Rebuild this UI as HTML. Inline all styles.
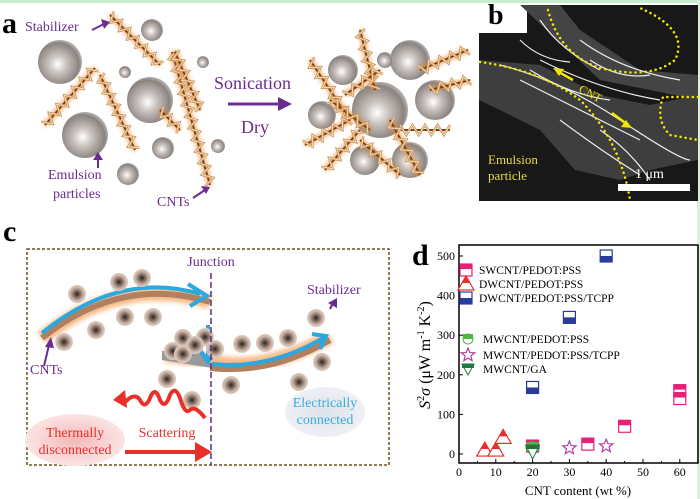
<!DOCTYPE html>
<html><head><meta charset="utf-8">
<style>
html,body{margin:0;padding:0;background:#fff;}
svg{display:block;}
text{font-family:"Liberation Serif",serif;}
</style></head>
<body>
<svg id="s" width="700" height="499" viewBox="0 0 700 499" xmlns="http://www.w3.org/2000/svg">
<defs>
<radialGradient id="sph" cx="0.45" cy="0.55" r="0.6">
<stop offset="0" stop-color="#ffffff"/><stop offset="0.35" stop-color="#c8c0bc"/><stop offset="0.8" stop-color="#8a8480"/><stop offset="1" stop-color="#d0ccc8"/>
</radialGradient>
<radialGradient id="sph2" cx="0.5" cy="0.5" r="0.55">
<stop offset="0" stop-color="#2a2018"/><stop offset="0.25" stop-color="#6a5a50"/><stop offset="0.65" stop-color="#c8b0a4"/><stop offset="1" stop-color="#e8d8d0"/>
</radialGradient>
<radialGradient id="pinkE" cx="0.5" cy="0.5" r="0.5">
<stop offset="0" stop-color="#f4b8b8"/><stop offset="1" stop-color="#fbe4e4"/>
</radialGradient>
<radialGradient id="blueE" cx="0.5" cy="0.5" r="0.5">
<stop offset="0" stop-color="#dde2ea"/><stop offset="1" stop-color="#eef0f4"/>
</radialGradient>
<filter id="blur"><feGaussianBlur stdDeviation="2.5"/></filter>
<filter id="blur2"><feGaussianBlur stdDeviation="4"/></filter>
</defs>
<rect x="0" y="0" width="700" height="3" fill="#c8ecd0"/>
<rect x="697" y="0" width="3" height="499" fill="#d8f0dc"/>

<!-- Panel a -->
<g id="pa"></g>
<text x="2" y="33" font-size="30" font-weight="bold">a</text>
<g fill="#6a2c91" font-size="14">
<text x="25" y="31">Stabilizer</text>
<text x="48" y="179">Emulsion</text>
<text x="53" y="198">particles</text>
<text x="157" y="206">CNTs</text>
<text x="214" y="89" font-size="18">Sonication</text>
<text x="241" y="133" font-size="18">Dry</text>
</g>
<g stroke="#6a2c91" stroke-width="3" fill="#6a2c91">
<line x1="228" y1="104" x2="280" y2="104"/><polygon points="278,97 292,104 278,111" stroke="none"/>
<line x1="92" y1="30" x2="104" y2="24" stroke-width="2"/><polygon points="101,19 110,22 104,29" stroke="none"/>
<line x1="98" y1="168" x2="98" y2="158" stroke-width="2"/><polygon points="93,160 98,152 103,160" stroke="none"/>
<line x1="193" y1="198" x2="205" y2="190" stroke-width="2"/><polygon points="201,186 210,187 206,194" stroke="none"/>
</g>

<!-- Panel b -->
<rect x="479" y="5" width="219" height="196" fill="#181818"/>
<rect x="479" y="5" width="48" height="28" fill="#fff"/>
<path d="M479,60 L540,65 L600,95 L650,105 L698,95 L698,160 L650,170 L620,180 L575,170 L540,130 L500,110 L479,100Z" fill="#3e3e3e"/>
<path d="M520,5 L560,5 L580,30 L640,70 L698,75 L698,100 L650,90 L600,80 Z" fill="#444"/>
<g stroke="#fff" stroke-width="1.2" fill="none" opacity="0.9">
<path d="M500,65 Q560,80 620,120 T690,160"/><path d="M520,80 Q580,110 640,140"/><path d="M540,60 Q600,90 660,100"/><path d="M560,120 Q600,150 640,175"/><path d="M540,20 Q560,50 600,70"/><path d="M580,40 Q620,70 680,80"/>
<path d="M530,70 Q570,95 610,100"/><path d="M590,60 Q620,80 650,75"/><path d="M600,130 Q630,150 650,180"/><path d="M520,40 Q540,60 570,62"/>
</g>
<g fill="none" stroke="#f2e600" stroke-width="2.5" stroke-dasharray="0.1 5" stroke-linecap="round">
<path d="M480,62 Q540,70 580,100 Q620,140 630,200"/>
<path d="M548,10 Q560,55 600,68 Q650,80 675,60 Q690,30 640,8"/>
<path d="M698,97 L663,97 Q655,120 670,135 L698,140"/>
</g>
<text x="488" y="24" font-size="28" font-weight="bold" fill="#000">b</text>
<g fill="#f2e600" stroke="#f2e600" stroke-width="2.5">
<line x1="557" y1="71" x2="573" y2="80"/><polygon points="553,68 564,69 559,76" stroke="none"/>
<line x1="612" y1="113" x2="628" y2="125"/><polygon points="632,128 621,127 626,120" stroke="none"/>
</g>
<text x="578" y="95" font-size="12" fill="#f2e600" font-family="Liberation Sans" transform="rotate(28 585 93)">CNT</text>
<text x="488" y="164" font-size="13" fill="#e6dc3c" font-family="Liberation Sans">Emulsion</text>
<text x="488" y="180" font-size="13" fill="#e6dc3c" font-family="Liberation Sans">particle</text>
<text x="635" y="178" font-size="14" fill="#fff">1 μm</text>
<rect x="618" y="184" width="72" height="7" fill="#fff"/>

<!-- Panel c -->
<text x="3" y="241" font-size="30" font-weight="bold">c</text>
<rect x="27" y="249" width="362" height="216" fill="none" stroke="#6b5020" stroke-width="1.5" stroke-dasharray="3 2"/>
<ellipse cx="75" cy="440" rx="50" ry="26" fill="url(#pinkE)"/>
<ellipse cx="325" cy="412" rx="40" ry="25" fill="url(#blueE)"/>
<g id="pc"></g>
<line x1="211" y1="273" x2="211" y2="465" stroke="#5a2d8a" stroke-width="1.5" stroke-dasharray="6 3"/>
<text x="211" y="266" font-size="14" fill="#6a2c91" text-anchor="middle">Junction</text>
<text x="307" y="294" font-size="14" fill="#6a2c91">Stabilizer</text>
<text x="30" y="374" font-size="14" fill="#6a2c91">CNTs</text>
<text x="325" y="407" font-size="14" fill="#3aaee0" text-anchor="middle">Electrically</text>
<text x="325" y="424" font-size="14" fill="#3aaee0" text-anchor="middle">connected</text>
<text x="75" y="437" font-size="14" fill="#e8302a" text-anchor="middle">Thermally</text>
<text x="75" y="454" font-size="14" fill="#e8302a" text-anchor="middle">disconnected</text>
<text x="167" y="437" font-size="14" fill="#e8302a" text-anchor="middle">Scattering</text>
<g stroke="#6a2c91" stroke-width="2" fill="#6a2c91">
<line x1="44" y1="366" x2="49" y2="345"/><polygon points="45,347 51,337 54,348" stroke="none"/>
<line x1="330" y1="309" x2="333" y2="303"/><polygon points="328,303 337,298 337,308" stroke="none"/>
</g>
<g stroke="#e8302a" stroke-width="4" fill="none">
<line x1="125" y1="452" x2="200" y2="452"/>
<path d="M205,418 Q195,405 190,410 Q185,415 180,398 Q175,385 170,395 Q165,410 160,400 Q155,385 150,398 Q145,410 140,400 Q135,392 125,402"/>
</g>
<polygon points="195,442 212,452 195,462" fill="#e8302a"/>
<polygon points="113,400 125,390 127,408" fill="#e8302a"/>

<!-- Panel d -->
<text x="412" y="265" font-size="30" font-weight="bold">d</text>
<rect x="459" y="245" width="239" height="218" fill="none" stroke="#000" stroke-width="1.5"/>
<g id="pd" font-size="12"></g>
<text transform="translate(430 355) rotate(-90)" font-size="16" text-anchor="middle"><tspan font-style="italic">S</tspan><tspan font-size="10" dy="-6">2</tspan><tspan dy="6" font-style="italic">σ</tspan> (μW m<tspan font-size="10" dy="-6">-1</tspan><tspan dy="6"> K</tspan><tspan font-size="10" dy="-6">-2</tspan><tspan dy="6">)</tspan></text>
<text x="578" y="495" font-size="13" text-anchor="middle">CNT content (wt %)</text>
<g font-size="11.5">
<text x="479" y="274">SWCNT/PEDOT:PSS</text>
<text x="479" y="288">DWCNT/PEDOT:PSS</text>
<text x="479" y="302">DWCNT/PEDOT:PSS/TCPP</text>
<text x="483" y="343">MWCNT/PEDOT:PSS</text>
<text x="483" y="359">MWCNT/PEDOT:PSS/TCPP</text>
<text x="483" y="373">MWCNT/GA</text>
</g>
</svg>
<script>
const NS="http://www.w3.org/2000/svg";
function el(p,t,a){const e=document.createElementNS(NS,t);for(const k in a)e.setAttribute(k,a[k]);p.appendChild(e);return e;}
const pa=document.getElementById('pa'),pc=document.getElementById('pc'),pd=document.getElementById('pd');
function sphere(g,x,y,r,f){el(g,'circle',{cx:x,cy:y,r:r,fill:'url(#'+(f||'sph')+')'});}
function helix(g,x1,y1,x2,y2){
 el(g,'line',{x1:x1,y1:y1,x2:x2,y2:y2,stroke:'#f08020','stroke-width':5,opacity:0.7,filter:'url(#blur)'});
 el(g,'line',{x1:x1,y1:y1,x2:x2,y2:y2,stroke:'#7a4010','stroke-width':2});
 const dx=x2-x1,dy=y2-y1,L=Math.hypot(dx,dy),nx=-dy/L,ny=dx/L,n=Math.round(L/6);let d='';
 for(let i=0;i<=n;i++){const t=i/n,s=(i%2?5:-5);d+=(i?'L':'M')+(x1+dx*t+nx*s).toFixed(1)+','+(y1+dy*t+ny*s).toFixed(1);}
 el(g,'path',{d:d,fill:'none',stroke:'#c8955a','stroke-width':2.5});
 el(g,'path',{d:d,fill:'none',stroke:'#fbe4c8','stroke-width':0.8});
}
[[60,62,22],[85,135,23],[150,100,23],[152,30,11],[125,72,6],[203,62,6],[163,148,11],[128,174,11],[218,146,7]].forEach(s=>sphere(pa,...s));
[[45,125,95,68],[100,75,135,150],[110,15,160,65],[172,52,210,185],[160,110,180,130],[175,52,200,110]].forEach(h=>helix(pa,...h));
[[343,70,15],[410,60,20],[435,100,20],[322,115,14],[410,160,18],[365,160,15],[385,60,8],[380,110,28]].forEach(s=>sphere(pa,...s));
[[310,60,350,120],[360,30,375,90],[420,70,468,50],[305,145,350,120],[325,170,360,130],[400,130,450,130],[390,120,420,175],[360,140,400,175],[345,95,380,70],[430,90,470,80],[370,130,330,100]].forEach(h=>helix(pa,...h));
el(pc,'path',{d:'M42,338 Q120,275 210,302',fill:'none',stroke:'#f08020','stroke-width':14,opacity:0.55,filter:'url(#blur)'});
el(pc,'path',{d:'M42,338 Q120,275 210,302',fill:'none',stroke:'#b08060','stroke-width':6});
el(pc,'path',{d:'M42,333 Q120,270 200,294',fill:'none',stroke:'#2aa8e0','stroke-width':4});
el(pc,'polyline',{points:'188,284 207,296 190,306',fill:'none',stroke:'#2aa8e0','stroke-width':4});
el(pc,'path',{d:'M165,355 L205,360 Q260,375 330,337',fill:'none',stroke:'#f08020','stroke-width':14,opacity:0.55,filter:'url(#blur)'});
el(pc,'polygon',{points:'162,351 205,353 212,368 162,360',fill:'#999'});
el(pc,'path',{d:'M210,368 Q270,375 330,340',fill:'none',stroke:'#b08060','stroke-width':6});
el(pc,'path',{d:'M212,364 Q270,370 325,337',fill:'none',stroke:'#2aa8e0','stroke-width':4});
el(pc,'polyline',{points:'312,334 326,336 320,349',fill:'none',stroke:'#2aa8e0','stroke-width':4});
el(pc,'line',{x1:208,y1:325,x2:208,y2:362,stroke:'#2aa8e0','stroke-width':4});
el(pc,'polyline',{points:'200,350 208,362 216,350',fill:'none',stroke:'#2aa8e0','stroke-width':4});
[[77,294],[119,282],[142,278],[64,342],[96,330],[125,317],[153,317],[183,338],[173,351],[183,354],[167,379],[205,337],[195,345],[215,349],[242,344],[265,343],[288,338],[316,318],[322,362],[231,385],[299,382],[192,400]].forEach(p=>sphere(pc,p[0],p[1],9,'sph2'));
const X=v=>459+v*3.68,Y=v=>454-v*0.396;
for(let v=0;v<=60;v+=10){el(pd,'line',{x1:X(v),y1:463,x2:X(v),y2:459,stroke:'#000'});const t=el(pd,'text',{x:X(v),y:476,'text-anchor':'middle','font-size':12});t.textContent=v;}
for(let v=5;v<=65;v+=10){el(pd,'line',{x1:X(v),y1:463,x2:X(v),y2:461,stroke:'#000'});}
for(let v=0;v<=500;v+=100){el(pd,'line',{x1:459,y1:Y(v),x2:463,y2:Y(v),stroke:'#000'});const t=el(pd,'text',{x:455,y:Y(v)+4,'text-anchor':'end','font-size':12});t.textContent=v;}
function sq(x,y,c){el(pd,'rect',{x:x-6,y:y-6,width:12,height:12,fill:'#fff',stroke:c,'stroke-width':1.2});el(pd,'rect',{x:x-6,y:y-6,width:12,height:5,fill:c});}
function sqB(x,y,c){el(pd,'rect',{x:x-6,y:y-6,width:12,height:12,fill:'#fff',stroke:c,'stroke-width':1.2});el(pd,'rect',{x:x-6,y:y,width:12,height:6,fill:c});}
function tri(x,y,c){el(pd,'polygon',{points:`${x},${y-8} ${x+8},${y+6} ${x-8},${y+6}`,fill:'#fff',stroke:c,'stroke-width':1.2});el(pd,'polygon',{points:`${x},${y-8} ${x+4},${y-1} ${x-4},${y-1}`,fill:c});}
function star(x,y,c){let p='';for(let i=0;i<10;i++){const r=i%2?3:7,a=-Math.PI/2+i*Math.PI/5;p+=(x+r*Math.cos(a)).toFixed(1)+','+(y+r*Math.sin(a)).toFixed(1)+' ';}el(pd,'polygon',{points:p,fill:'#fff',stroke:c,'stroke-width':1.2});}
[[20,20],[35,25],[45,70],[60,160],[60,140]].forEach(d=>sq(X(d[0]),Y(d[1]),'#e8207a'));
[[7,10],[10,10],[12,42]].forEach(d=>tri(X(d[0]),Y(d[1]),'#e8302a'));
[[20,168],[30,345],[40,500]].forEach(d=>sqB(X(d[0]),Y(d[1]),'#2a3c9a'));
el(pd,'circle',{cx:X(20),cy:Y(15),r:6,fill:'#fff',stroke:'#50b840'});el(pd,'rect',{x:X(20)-6,y:Y(15)-6,width:12,height:6,fill:'#50b840'});
[[30,15],[40,20]].forEach(d=>star(X(d[0]),Y(d[1]),'#b040a0'));
el(pd,'polygon',{points:`${X(20)-7},${Y(5)-7} ${X(20)+7},${Y(5)-7} ${X(20)},${Y(5)+7}`,fill:'#fff',stroke:'#1a7a40'});el(pd,'rect',{x:X(20)-7,y:Y(5)-7,width:14,height:4,fill:'#1a7a40'});
sq(466,270,'#e8207a');tri(466,284,'#e8302a');sqB(466,298,'#2a3c9a');
el(pd,'circle',{cx:468,cy:339,r:5,fill:'#fff',stroke:'#50b840'});el(pd,'rect',{x:463,y:334,width:10,height:5,fill:'#50b840'});
star(468,355,'#b040a0');
el(pd,'polygon',{points:'462,364 474,364 468,375',fill:'#fff',stroke:'#1a7a40'});el(pd,'rect',{x:462,y:364,width:12,height:4,fill:'#1a7a40'});
</script>
</body></html>
